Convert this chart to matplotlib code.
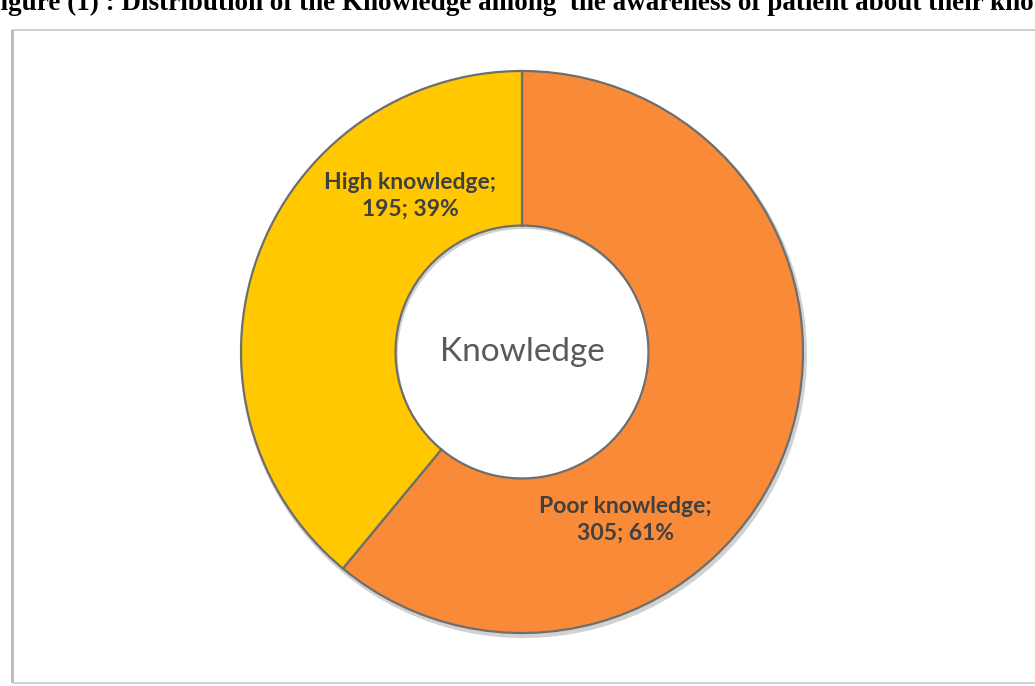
import matplotlib
matplotlib.use("Agg")
import matplotlib.pyplot as plt
from matplotlib.patches import Rectangle

categories = ["Poor knowledge", "High knowledge"]
counts = [305, 195]
percents = [61, 39]
colors = ["#F98B38", "#FFC800"]
center_label = "Knowledge"
title = "Figure (1) : Distribution of the Knowledge among  the awareness of patient about their knowledge"

W, H = 1035, 686
fig = plt.figure(figsize=(W / 100, H / 100), dpi=100)
fig.patch.set_facecolor("white")

# frame
fig.add_artist(Rectangle((13 / W, 3 / H), (W - 10) / W, (H - 33) / H,
                         transform=fig.transFigure, fill=False,
                         edgecolor="#c8c8c8", linewidth=1.2))
fig.add_artist(Rectangle((11 / W, 3 / H), 3 / W, (H - 33) / H,
                         transform=fig.transFigure, facecolor="#bdbdbd",
                         edgecolor="none"))

# title (cut off by top of image)
fig.text(-16 / W, (H - 10) / H, title, fontsize=19.5, fontweight="bold",
         family="Liberation Serif", va="baseline", ha="left", color="black")

cx, cy, R = 522, 352, 281
half = 300
ax = fig.add_axes([(cx - half) / W, (H - cy - half) / H, 2 * half / W, 2 * half / H])
ax.axis("off")

# soft shadow
ax.pie(counts, colors=["#9a9a9a", "#9a9a9a"], startangle=90, counterclock=False,
       radius=1.008, center=(0.006, -0.010),
       wedgeprops=dict(width=0.56, edgecolor="none", alpha=0.45))
wedges, _ = ax.pie(counts, colors=colors, startangle=90, counterclock=False,
                   radius=1.0,
                   wedgeprops=dict(width=0.55, edgecolor="#6e6e6e", linewidth=1.6))

lim = half / R
ax.set_xlim(-lim, lim)
ax.set_ylim(-lim, lim)
ax.set_aspect("equal")

label_pos = [(0.367, -0.598), (-0.399, 0.555)]
for (x, y), cat, n, p in zip(label_pos, categories, counts, percents):
    ax.text(x, y, f"{cat};\n{n}; {p}%", ha="center", va="center",
            fontsize=16.5, fontweight="bold", family="Lato", color="#404040",
            linespacing=1.3)

ax.text(0, 0, center_label, ha="center", va="center", fontsize=24,
        family="Lato", color="#595959")

fig.savefig("out.png", dpi=100, facecolor="white")
